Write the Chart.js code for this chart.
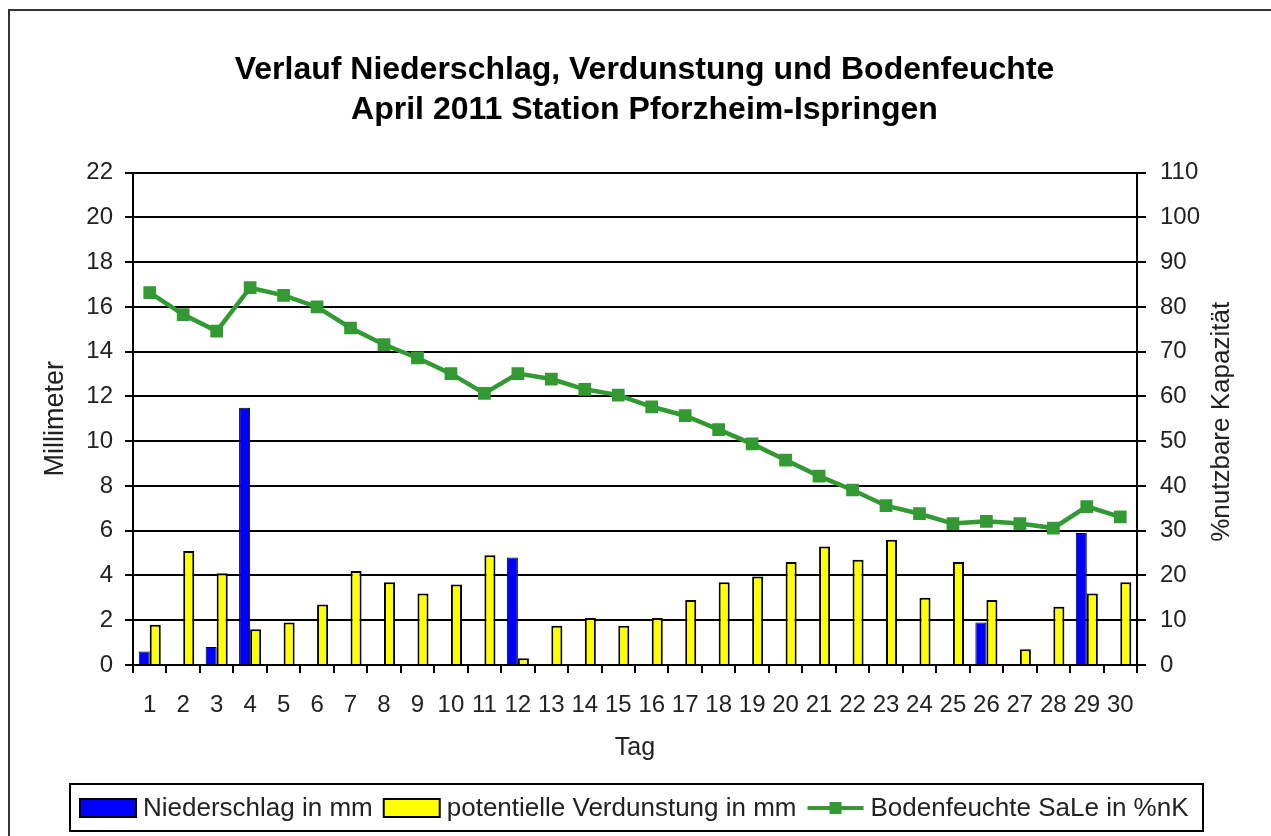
<!DOCTYPE html>
<html>
<head>
<meta charset="utf-8">
<script src="https://cdn.jsdelivr.net/npm/chart.js@4"></script>
<style>
  body { margin: 0; background: #fff; }
</style>
</head>
<body>
<canvas id="chart" width="1271" height="836"></canvas>
<script>
const tage = ['1','2','3','4','5','6','7','8','9','10','11','12','13','14','15',
  '16','17','18','19','20','21','22','23','24','25','26','27','28','29','30'];
// mm
const niederschlag = [0.6,0,0.8,11.5,0,0,0,0,0,0,0,4.8,0,0,0,0,0,0,0,0,0,0,0,0,0,1.9,0,0,5.9,0];
const verdunstung = [1.8,5.1,4.1,1.6,1.9,2.7,4.2,3.7,3.2,3.6,4.9,0.3,1.75,2.1,1.75,2.1,2.9,3.7,3.95,4.6,5.3,4.7,5.6,3.0,4.6,2.9,0.7,2.6,3.2,3.7];
// % nK
const bodenfeuchte = [83.2,78.3,74.6,84.3,82.6,80.0,75.3,71.6,68.6,65.1,60.7,65.1,63.9,61.6,60.3,57.7,55.7,52.6,49.4,45.8,42.2,39.1,35.6,33.8,31.6,32.1,31.6,30.6,35.4,33.1];

const font = "'Liberation Sans', Arial, sans-serif";
const textColor = '#222';

// white background + outer frame
const framePlugin = {
  id: 'frame',
  beforeDraw(chart) {
    const c = chart.ctx;
    c.save();
    c.fillStyle = '#fff';
    c.fillRect(0, 0, chart.width, chart.height);
    c.strokeStyle = '#333';
    c.lineWidth = 2;
    c.beginPath();
    c.moveTo(9, chart.height);
    c.lineTo(9, 10);
    c.lineTo(chart.width, 10);
    c.stroke();
    c.restore();
  }
};

// right axis title reads bottom-to-top, and excel-style legend in a box
const extrasPlugin = {
  id: 'extras',
  afterDraw(chart) {
    const c = chart.ctx;
    const a = chart.chartArea;
    c.save();
    c.fillStyle = textColor;
    c.font = '26px ' + font;
    c.textAlign = 'center';
    c.textBaseline = 'middle';
    c.translate(1222, (a.top + a.bottom) / 2 + 3);
    c.rotate(-Math.PI / 2);
    c.fillText('%nutzbare Kapazität', 0, 0);
    c.restore();

    // legend
    c.save();
    c.strokeStyle = '#000';
    c.lineWidth = 2;
    c.strokeRect(70, 784, 1133, 47);
    c.font = '26px ' + font;
    c.textBaseline = 'middle';
    c.fillStyle = textColor;
    let x = 80;
    const y = 808;
    chart.data.datasets.forEach(ds => {
      if (ds.type === 'line') {
        c.strokeStyle = ds.borderColor;
        c.lineWidth = 4;
        c.beginPath();
        c.moveTo(x, y);
        c.lineTo(x + 56, y);
        c.stroke();
        c.fillStyle = ds.backgroundColor;
        c.fillRect(x + 28 - 6, y - 6, 12, 12);
      } else {
        c.fillStyle = ds.backgroundColor;
        c.fillRect(x, y - 9, 56, 18);
        c.strokeStyle = '#000';
        c.lineWidth = 2;
        c.strokeRect(x, y - 9, 56, 18);
      }
      x += 63;
      c.fillStyle = textColor;
      c.fillText(ds.label, x, y + 1);
      x += c.measureText(ds.label).width + 11;
    });
    c.restore();
  }
};

new Chart(document.getElementById('chart'), {
  data: {
    labels: tage,
    datasets: [
      {
        type: 'bar',
        label: 'Niederschlag in mm',
        data: niederschlag,
        yAxisID: 'y',
        backgroundColor: '#0000ff',
        borderColor: '#000',
        borderWidth: 1,
        categoryPercentage: 0.66,
        barPercentage: 1.0,
        order: 1
      },
      {
        type: 'bar',
        label: 'potentielle Verdunstung in mm',
        data: verdunstung,
        yAxisID: 'y',
        backgroundColor: '#ffff00',
        borderColor: '#000',
        borderWidth: 2,
        categoryPercentage: 0.66,
        barPercentage: 1.0,
        order: 2
      },
      {
        type: 'line',
        label: 'Bodenfeuchte SaLe in %nK',
        data: bodenfeuchte,
        yAxisID: 'y2',
        borderColor: '#339933',
        backgroundColor: '#339933',
        borderWidth: 4.5,
        pointStyle: 'rect',
        pointRadius: 9,
        pointBorderWidth: 0,
        order: 0
      }
    ]
  },
  options: {
    responsive: false,
    animation: false,
    devicePixelRatio: 1,
    layout: { padding: { top: 0, left: 18, right: 0, bottom: 61 } },
    plugins: {
      legend: { display: false },
      tooltip: { enabled: false },
      title: {
        display: true,
        text: ['Verlauf Niederschlag, Verdunstung und Bodenfeuchte', 'April 2011 Station Pforzheim-Ispringen'],
        color: '#000',
        font: { family: font, size: 32, weight: 'bold', lineHeight: 1.25 },
        padding: { top: 50, bottom: 42.7 }
      }
    },
    scales: {
      x: {
        offset: true,
        grid: { display: true, drawOnChartArea: false, offset: true, color: '#000', lineWidth: 2, tickLength: 8 },
        border: { display: true, color: '#000', width: 2 },
        ticks: { color: textColor, font: { family: font, size: 24 }, padding: 18, maxRotation: 0, autoSkip: false },
        title: { display: true, text: 'Tag', color: textColor, font: { family: font, size: 25 }, padding: { top: 0, bottom: 12 } },
        afterFit(s) { s.height = 110; }
      },
      y: {
        position: 'left',
        min: 0,
        max: 22,
        ticks: { stepSize: 2, color: textColor, font: { family: font, size: 24 }, padding: 12 },
        grid: { color: '#000', lineWidth: 2, tickLength: 8 },
        border: { display: true, color: '#000', width: 2 },
        title: { display: true, text: 'Millimeter', color: textColor, font: { family: font, size: 27 }, padding: { top: 21, bottom: 0 } },
        afterFit(s) { s.width = 115; }
      },
      y2: {
        position: 'right',
        min: 0,
        max: 110,
        ticks: { stepSize: 10, color: textColor, font: { family: font, size: 24 }, padding: 14 },
        grid: { drawOnChartArea: false, color: '#000', lineWidth: 2, tickLength: 9 },
        border: { display: true, color: '#000', width: 2 },
        afterFit(s) { s.width = 134; }
      }
    }
  },
  plugins: [framePlugin, extrasPlugin]
});
</script>
</body>
</html>
